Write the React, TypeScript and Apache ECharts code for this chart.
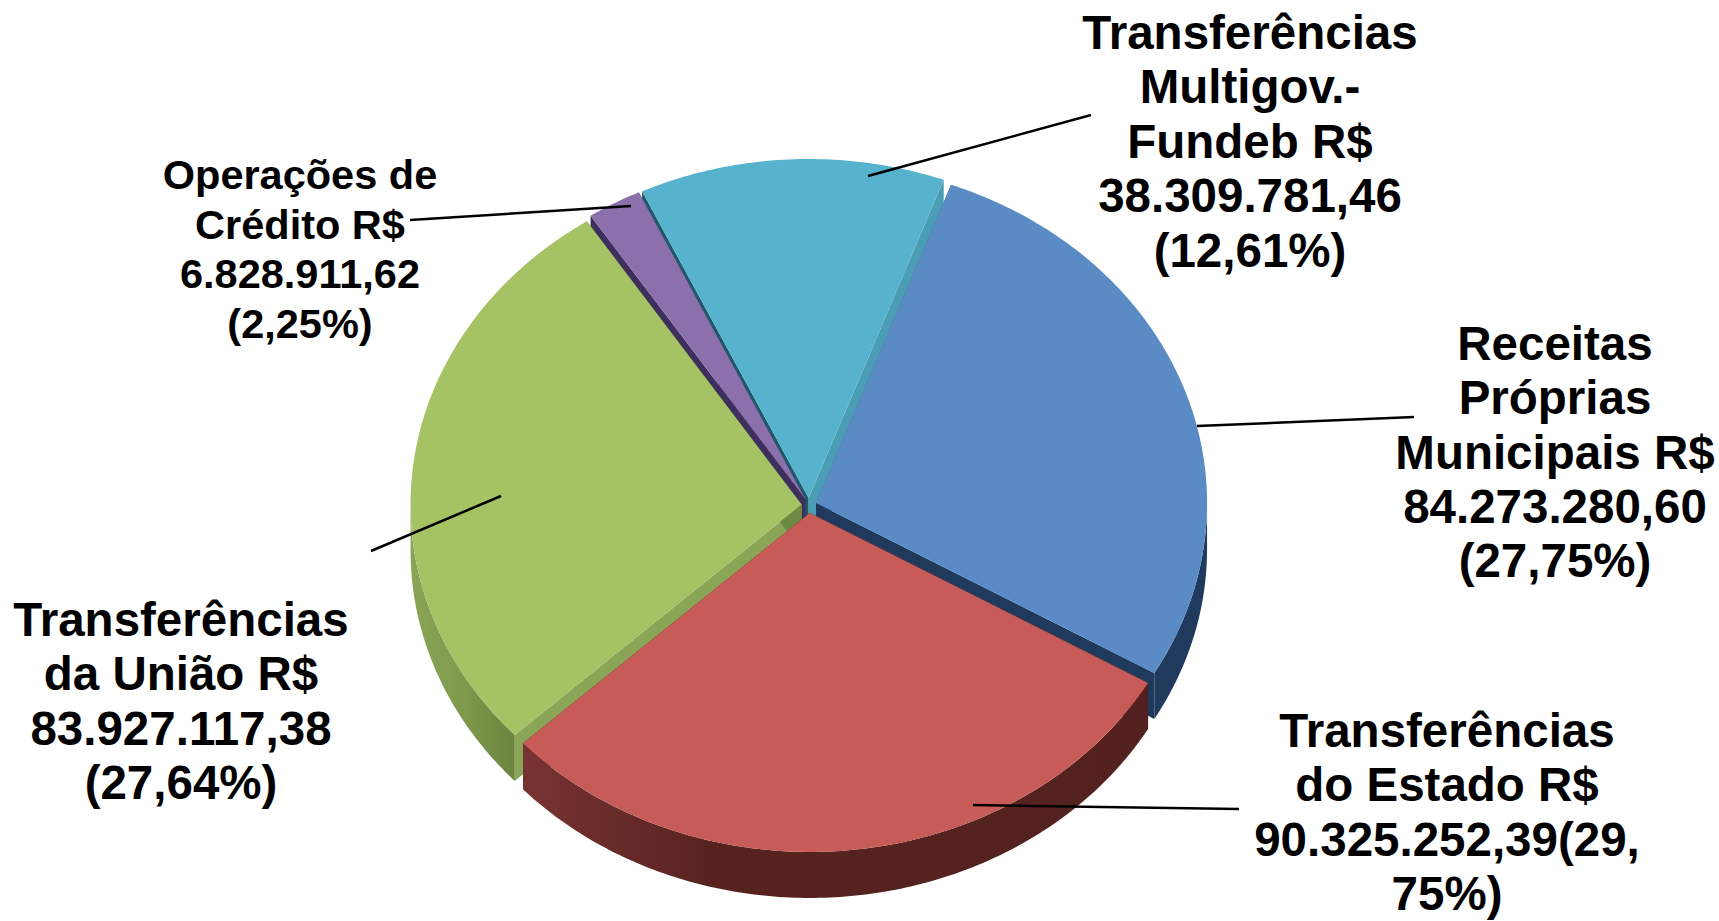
import React, { useEffect, useRef } from "react";
import * as echarts from "echarts";

const categories = ["Receitas Próprias Municipais", "Transferências do Estado", "Transferências da União", "Operações de Crédito", "Transferências Multigov.-Fundeb"];
const seriesValues = [84273280.6, 90325252.39, 83927117.38, 6828911.62, 38309781.46];
const topColors = ["#5b8bc5", "#c65b58", "#a5c265", "#8b70ab", "#57b3cd"];
const startWallColors = ["#3f6796", "#54211f", "#8aa555", "#3f2f5e", "#1f5a6c"];
const endWallColors = ["#203a5d", "#54211f", "#6e8a42", "#3f2f5e", "#4a9db5"];
const outerWallStops = [
  [[0, "#203a5d"], [1, "#203a5d"]],
  [[0, "#773332"], [0.3, "#58231f"], [1, "#52211f"]],
  [[0, "#8ba557"], [0.5, "#7f9a4d"], [1, "#6a843e"]],
  [[0, "#3f2f5e"], [1, "#3f2f5e"]],
  [[0, "#1f5a6c"], [1, "#1f5a6c"]],
];
// painter's order: rear slices first
const drawOrder = [4, 3, 0, 2, 1];

const labelTexts = [
  "Receitas\nPróprias\nMunicipais R$\n84.273.280,60\n(27,75%)",
  "Transferências\ndo Estado R$\n90.325.252,39(29,\n75%)",
  "Transferências\nda União R$\n83.927.117,38\n(27,64%)",
  "Operações de\nCrédito R$\n6.828.911,62\n(2,25%)",
  "Transferências\nMultigov.-\nFundeb R$\n38.309.781,46\n(12,61%)",
];
const labelBoxes = [
  { x: 1555, y: 452, size: 47.5, lh: 54.2 },
  { x: 1447, y: 812, size: 47.5, lh: 54.3 },
  { x: 181, y: 701, size: 47.5, lh: 54.5 },
  { x: 300, y: 249, size: 41.5, lh: 49.6 },
  { x: 1250, y: 141, size: 47.5, lh: 54.5 },
];
const leaderLines = [
  [1414, 417, 1197, 426],
  [1239, 809, 973, 805],
  [371, 551, 501, 496],
  [410, 220, 631, 206],
  [1091, 115, 868, 176],
];

const CX = 809;
const CY = 505.5;
const RX = 391;
const RY = 339;
const DEPTH = 46;
const EXPLODE = 7.5;
const START_DEG = 20.2;

const rad = (d: number) => (d * Math.PI) / 180;

function arcPoints(ax: number, ay: number, from: number, to: number, dy = 0) {
  const pts: number[][] = [];
  const n = Math.max(2, Math.ceil(Math.abs(to - from) / 0.75));
  for (let i = 0; i <= n; i++) {
    const t = rad(from + ((to - from) * i) / n);
    pts.push([ax + RX * Math.sin(t), ay - RY * Math.cos(t) + dy]);
  }
  return pts;
}

function renderSlice(params: any, api: any) {
  const idx = drawOrder[params.dataIndex];
  const value = api.value(0);
  const total = seriesValues.reduce((a, b) => a + b, 0);
  const before = seriesValues.slice(0, idx).reduce((a, b) => a + b, 0);
  const s = START_DEG + (before / total) * 360;
  const e = s + (value / total) * 360;
  const mid = rad((s + e) / 2);
  const ax = CX + EXPLODE * Math.sin(mid);
  const ay = CY - EXPLODE * Math.cos(mid);
  const arc = arcPoints(ax, ay, s, e);
  const first = arc[0];
  const last = arc[arc.length - 1];
  const children: any[] = [];
  const poly = (points: number[][], fill: any) => ({
    type: "polygon",
    shape: { points },
    style: { fill, stroke: null },
  });
  children.push(poly([[ax, ay], first, [first[0], first[1] + DEPTH], [ax, ay + DEPTH]], startWallColors[idx]));
  children.push(poly([[ax, ay], last, [last[0], last[1] + DEPTH], [ax, ay + DEPTH]], endWallColors[idx]));
  const from = Math.max(s, 90);
  const to = Math.min(e, 270);
  if (to > from) {
    const upper = arcPoints(ax, ay, from, to);
    const lower = arcPoints(ax, ay, from, to, DEPTH).reverse();
    const stops = outerWallStops[idx];
    children.push(
      poly(upper.concat(lower), {
        type: "linear",
        x: 0,
        y: 0,
        x2: 1,
        y2: 0,
        global: false,
        colorStops: stops.map(([o, c]) => ({ offset: o as number, color: c as string })),
      })
    );
  }
  children.push(poly([[ax, ay], ...arc], topColors[idx]));
  return { type: "group", children };
}

export default function App() {
  const ref = useRef<HTMLDivElement>(null);
  useEffect(() => {
    document.body.style.margin = "0";
    document.body.style.overflow = "hidden";
    const chart = echarts.init(ref.current!, undefined, { renderer: "svg" });
    chart.setOption({
      animation: false,
      backgroundColor: "#ffffff",
      series: [
        {
          type: "custom",
          coordinateSystem: "none",
          renderItem: renderSlice,
          silent: true,
          data: drawOrder.map((i) => ({ name: categories[i], value: [seriesValues[i]] })),
        },
      ],
      graphic: [
        ...leaderLines.map(([x1, y1, x2, y2]) => ({
          type: "line",
          z: 10,
          shape: { x1, y1, x2, y2 },
          style: { stroke: "#000000", lineWidth: 2.5 },
        })),
        ...labelTexts.map((text, i) => ({
          type: "text",
          z: 11,
          x: labelBoxes[i].x,
          y: labelBoxes[i].y,
          style: {
            text,
            fill: "#000000",
            font: `bold ${labelBoxes[i].size}px "Liberation Sans", Arial, sans-serif`,
            lineHeight: labelBoxes[i].lh,
            align: "center",
            verticalAlign: "middle",
          },
        })),
      ],
    });
    return () => chart.dispose();
  }, []);
  return <div ref={ref} style={{ position: "absolute", left: 0, top: 0, width: 1719, height: 921 }} />;
}
